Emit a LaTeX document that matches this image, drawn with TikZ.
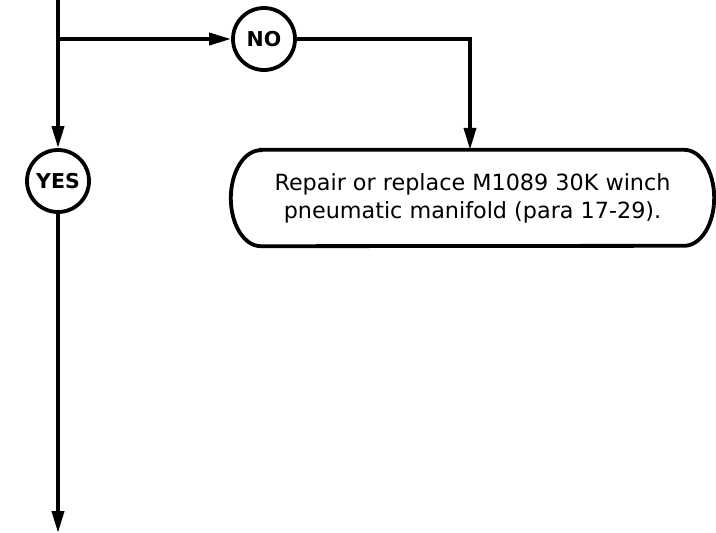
\documentclass[tikz,border=0pt]{standalone}
\usepackage{fontspec}
\setmainfont{DejaVu Sans}
\usetikzlibrary{arrows.meta}
\begin{document}
\begin{tikzpicture}[x=1pt,y=-1pt,
  line/.style={line width=3.8pt},
  arr/.style={line, -{Triangle[length=22pt,width=12pt]}},
  circ/.style={circle, draw, line width=3.8pt, minimum size=62pt, inner sep=0pt, font=\fontsize{20.5}{24}\selectfont\bfseries},
  boxn/.style={rectangle, minimum width=483pt, minimum height=96pt, inner sep=0pt, align=center, font=\fontsize{22.3}{28}\selectfont}]
\useasboundingbox (0,0) rectangle (716,533);
\coordinate (top) at (58,-2);
\coordinate (branch) at (58,39);
\coordinate (bottom) at (58,533);
\coordinate (corner) at (470,39);
\node[circ] (no) at (264,39) {NO};
\node[circ] (yes) at (58,181) {YES};
\node[boxn] (box) at (472.5,198) {Repair or replace M1089 30K winch\\pneumatic manifold (para 17-29).};
\draw[line] ([xshift=30pt]box.north west) -- ([xshift=-30pt]box.north east)
  arc[start angle=90, end angle=-90, x radius=30pt, y radius=48pt]
  -- ([xshift=30pt]box.south west)
  arc[start angle=270, end angle=90, x radius=30pt, y radius=48pt] -- cycle;
\draw[arr] (top) -- (yes.north);
\draw[arr] (branch) -- (no.west);
\draw[arr] (no.east) -- (corner) -- (corner |- box.north);
\draw[arr] (yes.south) -- (bottom);
\end{tikzpicture}
\end{document}
